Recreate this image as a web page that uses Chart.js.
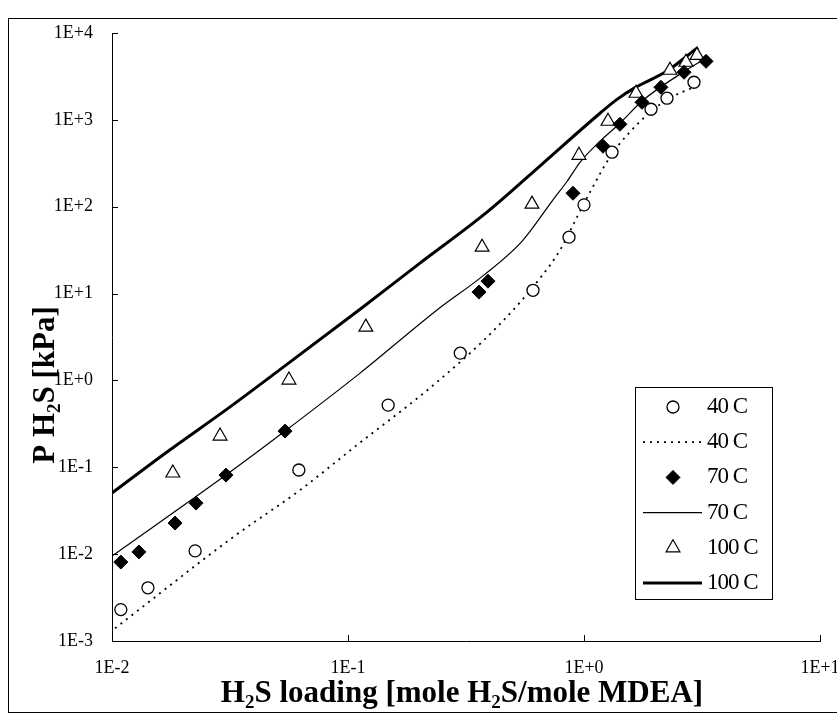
<!DOCTYPE html>
<html>
<head>
<meta charset="utf-8">
<script src="https://cdn.jsdelivr.net/npm/chart.js@4"></script>
<style>
  html, body { margin: 0; padding: 0; background: #fff; }
</style>
</head>
<body>
<canvas id="grafica" width="837" height="717"></canvas>
<script>
// experimental points (loading, P H2S kPa)
const carga40 = [0.0109, 0.0142, 0.0225, 0.0619, 0.148, 0.299, 0.608, 0.864, 1.0, 1.314, 1.923, 2.247, 2.924];
const presion40 = [0.0023, 0.0041, 0.0109, 0.093, 0.52, 2.06, 10.9, 44.6, 105, 424, 1324, 1775, 2711];

const carga70 = [0.0109, 0.0130, 0.0185, 0.0227, 0.0304, 0.0541, 0.359, 0.392, 0.898, 1.204, 1.42, 1.761, 2.118, 2.653, 3.29];
const presion70 = [0.0081, 0.0106, 0.0228, 0.0387, 0.0813, 0.261, 10.4, 13.9, 143, 497, 889, 1594, 2371, 3532, 4720];

const carga100 = [0.0181, 0.0287, 0.0562, 0.119, 0.370, 0.602, 0.952, 1.264, 1.661, 2.314, 2.704, 3.01];
const presion100 = [0.086, 0.229, 1.01, 4.11, 34.2, 107, 391, 964, 2024, 3724, 4603, 5530];

// model curves
const cargaModelo40 = [0.0103, 0.0326, 0.0626, 0.105, 0.238, 0.428, 0.651, 0.791, 0.943, 1.06, 1.288, 1.52, 2.161, 3.04];
const presionModelo40 = [0.0014, 0.0157, 0.0546, 0.166, 0.956, 4.11, 15.0, 31.6, 79.8, 147, 372, 666, 1594, 2500];

const cargaModelo70 = [0.01, 0.0304, 0.0541, 0.1125, 0.2406, 0.373, 0.546, 0.739, 0.847, 0.962, 1.169, 1.42, 1.778, 2.627, 3.29];
const presionModelo70 = [0.0095, 0.0813, 0.261, 1.213, 6.6, 16.0, 40.0, 120, 195, 325, 567, 915, 1681, 3532, 5117];

const cargaModelo100 = [0.01, 0.0171, 0.0307, 0.0525, 0.1125, 0.2018, 0.388, 0.670, 1.169, 1.38, 1.645, 2.247, 3.04];
const presionModelo100 = [0.0505, 0.150, 0.467, 1.385, 6.61, 22.4, 86.5, 316, 1191, 1720, 2350, 3650, 6840];

const ticksX = [0.01, 0.1, 1, 10];
const ticksY = [0.001, 0.01, 0.1, 1, 10, 100, 1000, 10000];

const fuente = 'Liberation Serif, Times New Roman, serif';

function pares(xs, ys) {
    return xs.map((x, i) => ({ x: x, y: ys[i] }));
}

function etiquetaExp(v) {
    const e = Math.round(Math.log10(v));
    return '1E' + (e < 0 ? '-' : '+') + Math.abs(e);
}

// text with subscript pieces: [texto, esSubindice]
function textoSub(ctx, partes, cx, cy, tam) {
    const normal = 'bold ' + tam + 'px ' + fuente;
    const chico = 'bold ' + Math.round(tam * 0.62) + 'px ' + fuente;
    let ancho = 0;
    partes.forEach(p => {
        ctx.font = p[1] ? chico : normal;
        ancho += ctx.measureText(p[0]).width;
    });
    let x = cx - ancho / 2;
    ctx.textAlign = 'left';
    ctx.textBaseline = 'middle';
    partes.forEach(p => {
        ctx.font = p[1] ? chico : normal;
        ctx.fillText(p[0], x, cy + (p[1] ? tam * 0.28 : 0));
        x += ctx.measureText(p[0]).width;
    });
}

const adornos = {
    id: 'adornos',
    beforeDraw(chart) {
        const ctx = chart.ctx;
        ctx.save();
        ctx.fillStyle = '#fff';
        ctx.fillRect(0, 0, chart.width, chart.height);
        ctx.strokeStyle = '#000';
        ctx.lineWidth = 1;
        ctx.strokeRect(8.5, 18.5, chart.width, 694);
        ctx.restore();
    },
    afterDraw(chart) {
        const ctx = chart.ctx;
        const area = chart.chartArea;
        const sx = chart.scales.x;
        const sy = chart.scales.y;
        ctx.save();
        ctx.strokeStyle = '#000';
        ctx.lineWidth = 1;

        // tick marks pointing into the plot
        ctx.beginPath();
        ticksX.forEach(v => {
            const px = Math.round(sx.getPixelForValue(v)) + 0.5;
            ctx.moveTo(px, area.bottom);
            ctx.lineTo(px, area.bottom - 6);
        });
        ticksY.forEach(v => {
            const py = Math.round(sy.getPixelForValue(v)) + 0.5;
            ctx.moveTo(area.left, py);
            ctx.lineTo(area.left + 6, py);
        });
        ctx.stroke();

        // axis titles
        ctx.fillStyle = '#000';
        textoSub(ctx, [['H', false], ['2', true], ['S loading [mole H', false], ['2', true], ['S/mole MDEA]', false]], 462, 694, 31);
        ctx.save();
        ctx.translate(46, 385);
        ctx.rotate(-Math.PI / 2);
        textoSub(ctx, [['P H', false], ['2', true], ['S [kPa]', false]], 0, 0, 31);
        ctx.restore();

        // legend box
        const lx = 635, ly = 387, lw = 137, lh = 212;
        ctx.fillStyle = '#fff';
        ctx.fillRect(lx, ly, lw, lh);
        ctx.strokeRect(lx + 0.5, ly + 0.5, lw, lh);
        chart.data.datasets.forEach((ds, i) => {
            const y = ly + 20 + i * 35.2;
            if (ds.showLine) {
                ctx.save();
                ctx.strokeStyle = ds.borderColor;
                ctx.lineWidth = ds.borderWidth;
                ctx.setLineDash(ds.borderDash || []);
                ctx.beginPath();
                ctx.moveTo(643, y);
                ctx.lineTo(702, y);
                ctx.stroke();
                ctx.restore();
            } else {
                ctx.save();
                ctx.fillStyle = ds.backgroundColor;
                ctx.strokeStyle = ds.borderColor;
                ctx.lineWidth = ds.borderWidth;
                Chart.helpers.drawPoint(ctx, {
                    pointStyle: ds.pointStyle,
                    radius: ds.pointRadius,
                    rotation: 0,
                    borderWidth: ds.borderWidth
                }, 673, y);
                ctx.restore();
            }
            ctx.fillStyle = '#000';
            ctx.font = '23px ' + fuente;
            ctx.textAlign = 'left';
            ctx.textBaseline = 'middle';
            ctx.letterSpacing = '-1px';
            ctx.fillText(ds.label, 707, y);
            ctx.letterSpacing = '0px';
        });
        ctx.restore();
    }
};

const ctx = document.getElementById('grafica').getContext('2d');
new Chart(ctx, {
    type: 'scatter',
    data: {
        datasets: [
            {
                label: '40 C', data: pares(carga40, presion40), showLine: false,
                pointStyle: 'circle', pointRadius: 6, pointHoverRadius: 6,
                backgroundColor: '#fff', borderColor: '#000', borderWidth: 1.3, order: 1
            },
            {
                label: '40 C', data: pares(cargaModelo40, presionModelo40), showLine: true,
                pointRadius: 0, borderColor: '#000', borderWidth: 1.8, borderDash: [2, 5],
                cubicInterpolationMode: 'monotone', order: 2
            },
            {
                label: '70 C', data: pares(carga70, presion70), showLine: false,
                pointStyle: 'rectRot', pointRadius: 7, pointHoverRadius: 7,
                backgroundColor: '#000', borderColor: '#000', borderWidth: 1, order: 1
            },
            {
                label: '70 C', data: pares(cargaModelo70, presionModelo70), showLine: true,
                pointRadius: 0, borderColor: '#000', borderWidth: 1.2,
                cubicInterpolationMode: 'monotone', order: 2
            },
            {
                label: '100 C', data: pares(carga100, presion100), showLine: false,
                pointStyle: 'triangle', pointRadius: 8, pointHoverRadius: 8,
                backgroundColor: '#fff', borderColor: '#000', borderWidth: 1.2, order: 1
            },
            {
                label: '100 C', data: pares(cargaModelo100, presionModelo100), showLine: true,
                pointRadius: 0, borderColor: '#000', borderWidth: 3,
                cubicInterpolationMode: 'monotone', order: 2
            }
        ]
    },
    options: {
        responsive: false,
        animation: false,
        layout: { padding: { left: 0, top: 33, right: 0, bottom: 0 } },
        plugins: {
            legend: { display: false },
            tooltip: { enabled: false }
        },
        scales: {
            x: {
                type: 'logarithmic',
                min: 0.01,
                max: 10,
                afterBuildTicks: (scale) => { scale.ticks = ticksX.map(v => ({ value: v })); },
                afterFit: (scale) => {
                    // the last label may run off the right edge
                    scale.height = 76;
                    scale.paddingLeft = 0;
                    scale.paddingRight = 17;
                },
                grid: { display: false, drawTicks: false },
                border: { display: true, color: '#000', width: 1 },
                ticks: {
                    color: '#000', padding: 16, maxRotation: 0, autoSkip: false,
                    font: { family: fuente, size: 18 },
                    callback: (v) => etiquetaExp(v)
                }
            },
            y: {
                type: 'logarithmic',
                min: 0.001,
                max: 10000,
                afterBuildTicks: (scale) => { scale.ticks = ticksY.map(v => ({ value: v })); },
                afterFit: (scale) => { scale.width = 112; },
                grid: { display: false, drawTicks: false },
                border: { display: true, color: '#000', width: 1 },
                ticks: {
                    color: '#000', padding: 19, autoSkip: false,
                    font: { family: fuente, size: 18 },
                    callback: (v) => etiquetaExp(v)
                }
            }
        }
    },
    plugins: [adornos]
});
</script>
</body>
</html>
